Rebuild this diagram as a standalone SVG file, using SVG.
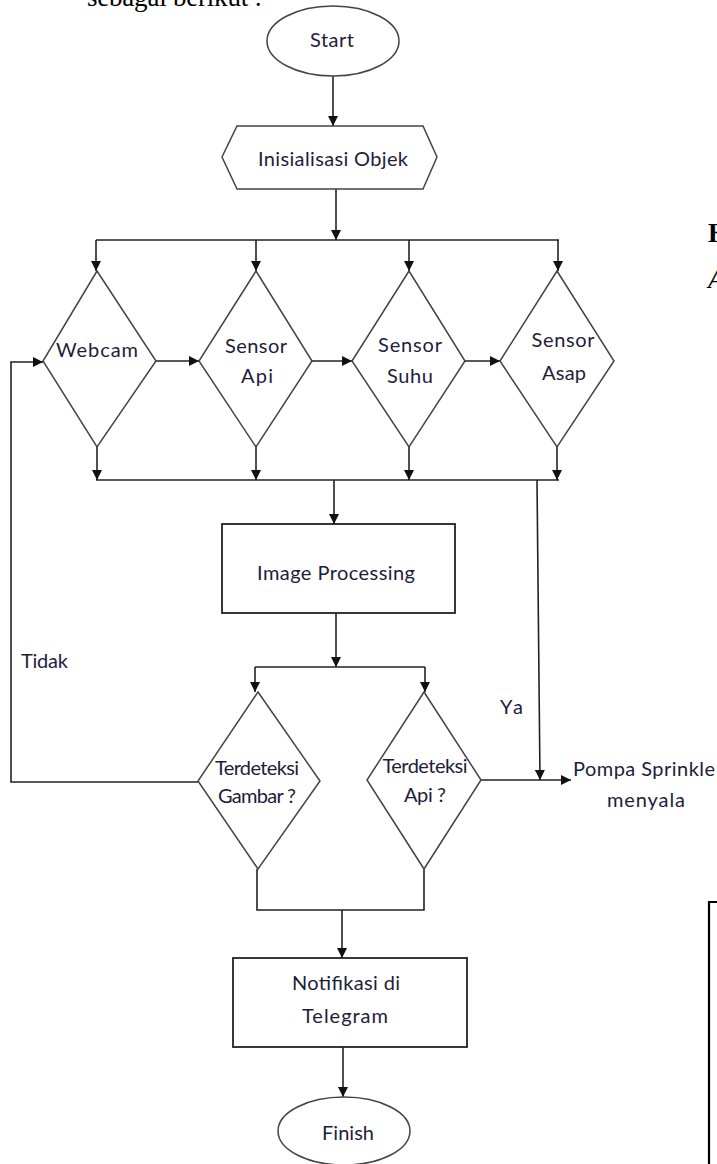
<svg xmlns="http://www.w3.org/2000/svg" width="717" height="1164" viewBox="0 0 717 1164">
<defs>
<marker id="ah" viewBox="0 0 10 10" refX="10" refY="5" markerWidth="10" markerHeight="10" markerUnits="userSpaceOnUse" orient="auto">
<path d="M0,0 L10,5 L0,10 z" fill="#111"/>
</marker>
</defs>
<style>
.sh{fill:#fff;stroke:#444;stroke-width:1.5}
.bx{fill:#fff;stroke:#222;stroke-width:1.8}
.t{font-family:Lato,"Liberation Sans",sans-serif;font-size:20px;fill:#1d1d3c;text-anchor:middle}
.tl{font-family:Lato,"Liberation Sans",sans-serif;font-size:20px;fill:#1d1d3c}
.c{fill:none;stroke:#222;stroke-width:1.6}
.ca{fill:none;stroke:#222;stroke-width:1.6;marker-end:url(#ah)}
.body{font-family:"Liberation Serif",serif;font-size:27px;fill:#000}
</style>
<rect width="717" height="1164" fill="#fff"/>
<text class="body" x="262" y="6" text-anchor="end" textLength="175" lengthAdjust="spacing">sebagai berikut :</text>
<text class="body" x="708" y="242" font-weight="bold">H</text>
<text class="body" x="708" y="288" font-style="italic">A</text>
<path d="M717,902 L709,902 L709,1164" fill="none" stroke="#000" stroke-width="2.2"/>

<g id="connectors">
<path class="ca" d="M333,76 L333,126"/>
<path class="ca" d="M336,189 L336,240"/>
<path class="c" d="M96,240 L559,240"/>
<path class="ca" d="M96,240 L96,271"/>
<path class="ca" d="M256,240 L256,271"/>
<path class="ca" d="M409,240 L409,271"/>
<path class="ca" d="M558,240 L558,271"/>
<path class="ca" d="M156,361 L199,361"/>
<path class="ca" d="M312,361 L352,361"/>
<path class="ca" d="M465,361 L500,361"/>
<path class="ca" d="M97,447 L97,480"/>
<path class="ca" d="M256,447 L256,480"/>
<path class="ca" d="M409,447 L409,480"/>
<path class="ca" d="M557,447 L557,480"/>
<path class="c" d="M96,480 L559,480"/>
<path class="ca" d="M334,480 L334,524"/>
<path class="ca" d="M537,480 L540,780"/>
<path class="ca" d="M336,613 L336,667"/>
<path class="c" d="M255,667 L425,667"/>
<path class="ca" d="M255,667 L255,692"/>
<path class="ca" d="M425,667 L425,692"/>
<path class="ca" d="M198,782 L11,782 L11,362 L43,362"/>
<path class="ca" d="M481,780 L571,780"/>
<path class="c" d="M257,869 L257,910 L424,910 L424,869"/>
<path class="ca" d="M342,910 L342,958"/>
<path class="ca" d="M343,1047 L343,1097"/>
</g>

<g id="start">
<ellipse class="sh" cx="333" cy="41" rx="66" ry="35"/>
<text class="t" x="332" y="47" textLength="44" lengthAdjust="spacing">Start</text>
</g>
<g id="init">
<path class="sh" d="M237,126 L423,126 L437,157 L423,189 L237,189 L222,157 z"/>
<text class="t" x="333" y="166" textLength="150" lengthAdjust="spacing">Inisialisasi Objek</text>
</g>
<g id="webcam">
<path class="sh" d="M97,271 L156,361 L97,447 L43,361 z"/>
<text class="t" x="97" y="357" textLength="82" lengthAdjust="spacing">Webcam</text>
</g>
<g id="sensor-api">
<path class="sh" d="M256,271 L312,361 L256,447 L199,361 z"/>
<text class="t" x="256" y="353" textLength="62" lengthAdjust="spacing">Sensor</text>
<text class="t" x="257" y="383" textLength="32" lengthAdjust="spacing">Api</text>
</g>
<g id="sensor-suhu">
<path class="sh" d="M409,271 L465,361 L409,447 L352,361 z"/>
<text class="t" x="410" y="352" textLength="64" lengthAdjust="spacing">Sensor</text>
<text class="t" x="410" y="383" textLength="46" lengthAdjust="spacing">Suhu</text>
</g>
<g id="sensor-asap">
<path class="sh" d="M557,271 L614,361 L557,447 L500,361 z"/>
<text class="t" x="563" y="347" textLength="63" lengthAdjust="spacing">Sensor</text>
<text class="t" x="564" y="380" textLength="44" lengthAdjust="spacing">Asap</text>
</g>
<g id="image-processing">
<rect class="bx" x="222" y="524" width="233" height="89"/>
<text class="t" x="336" y="580" textLength="158" lengthAdjust="spacing">Image Processing</text>
</g>
<g id="terdeteksi-gambar">
<path class="sh" d="M258,692 L320,781 L258,869 L198,781 z"/>
<text class="t" x="257" y="775" textLength="84" lengthAdjust="spacing">Terdeteksi</text>
<text class="t" x="257" y="803" textLength="78" lengthAdjust="spacing">Gambar ?</text>
</g>
<g id="terdeteksi-api">
<path class="sh" d="M424,692 L481,780 L424,869 L367,780 z"/>
<text class="t" x="425" y="773" textLength="85" lengthAdjust="spacing">Terdeteksi</text>
<text class="t" x="425" y="802" textLength="42" lengthAdjust="spacing">Api ?</text>
</g>
<g id="pompa">
<text class="tl" x="573" y="776" textLength="142" lengthAdjust="spacing">Pompa Sprinkle</text>
<text class="t" x="646" y="807" textLength="78" lengthAdjust="spacing">menyala</text>
</g>
<g id="labels">
<text class="tl" x="21" y="668" textLength="47" lengthAdjust="spacing">Tidak</text>
<text class="tl" x="500" y="714" textLength="23" lengthAdjust="spacing">Ya</text>
</g>
<g id="notifikasi">
<rect class="bx" x="233" y="958" width="234" height="89"/>
<text class="t" x="346" y="990" textLength="108" lengthAdjust="spacing">Notifikasi di</text>
<text class="t" x="345" y="1023" textLength="86" lengthAdjust="spacing">Telegram</text>
</g>
<g id="finish">
<ellipse class="sh" cx="344" cy="1131" rx="66" ry="34"/>
<text class="t" x="348" y="1140" textLength="52" lengthAdjust="spacing">Finish</text>
</g>
</svg>
